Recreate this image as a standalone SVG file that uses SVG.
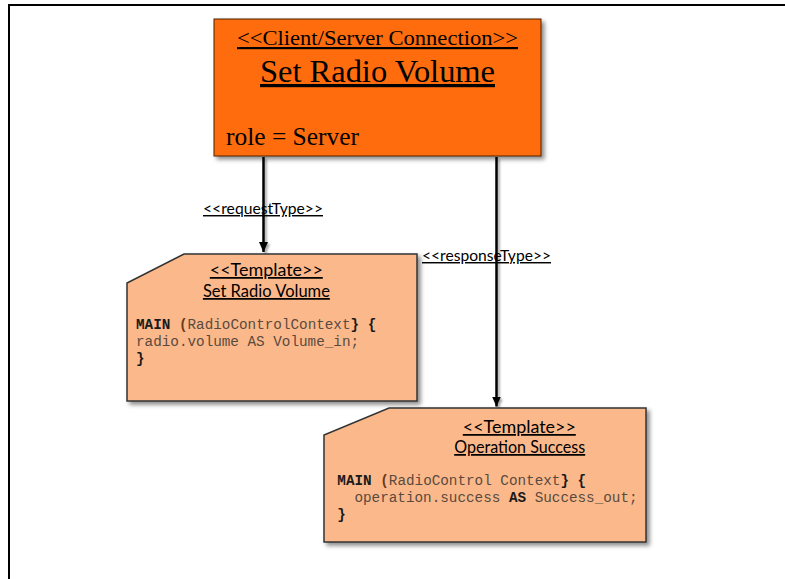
<svg xmlns="http://www.w3.org/2000/svg" width="785" height="579" viewBox="0 0 785 579">
  <defs>
    <filter id="shadow" x="-10%" y="-10%" width="130%" height="130%">
      <feDropShadow dx="3" dy="3" stdDeviation="2" flood-color="#000" flood-opacity="0.45"/>
    </filter>
    <filter id="lineShadow" x="-200%" y="-5%" width="500%" height="115%">
      <feDropShadow dx="2" dy="2" stdDeviation="1.2" flood-color="#000" flood-opacity="0.35"/>
    </filter>
    <marker id="arrow" markerUnits="userSpaceOnUse" markerWidth="10" markerHeight="10" refX="10" refY="4.5" orient="auto">
      <path d="M0,0 L10,4.5 L0,9 z" fill="#000"/>
    </marker>
    <style>
      .serif { font-family: "Liberation Serif", "Times New Roman", serif; fill: #000; }
      .sans { font-family: Lato, "Open Sans", "Liberation Sans", sans-serif; fill: #000; }
      .ul { text-decoration: underline; }
      .code { font-family: "Liberation Mono", "Courier New", monospace; font-size: 14.3px; fill: #5a4a3e; white-space: pre; }
      .kw { font-weight: bold; fill: #1a1a1a; }
      .paren { font-weight: bold; fill: #6a3a1c; }
      .template { fill: #FBB98B; stroke: #333; stroke-width: 1.5; }
      .conn { stroke: #000; stroke-width: 2.5; fill: none; }
    </style>
  </defs>

  <rect x="0" y="0" width="785" height="579" fill="#fff"/>
  <!-- outer frame -->
  <rect x="9" y="5" width="800" height="600" fill="none" stroke="#000" stroke-width="2"/>

  <!-- connectors -->
  <g id="connectors" filter="url(#lineShadow)">
    <line class="conn" x1="263.5" y1="157" x2="263.5" y2="252" marker-end="url(#arrow)"/>
    <line class="conn" x1="496.5" y1="157" x2="496.5" y2="406.5" marker-end="url(#arrow)"/>
  </g>
  <g id="connector-labels">
    <text class="sans ul" x="203" y="214" font-size="14.5" textLength="120" lengthAdjust="spacingAndGlyphs">&lt;&lt;requestType&gt;&gt;</text>
    <text class="sans ul" x="422" y="261" font-size="14.5" textLength="129" lengthAdjust="spacingAndGlyphs">&lt;&lt;responseType&gt;&gt;</text>
  </g>

  <!-- client/server connection node -->
  <g id="connection">
    <rect x="214" y="19" width="327" height="137" fill="#FF6C0A" stroke="#4a2000" stroke-width="1" filter="url(#shadow)"/>
    <text class="serif ul" x="377.5" y="45" font-size="22" text-anchor="middle" textLength="281" lengthAdjust="spacingAndGlyphs">&lt;&lt;Client/Server Connection&gt;&gt;</text>
    <text class="serif ul" x="377.5" y="82" font-size="32" text-anchor="middle" textLength="235" lengthAdjust="spacingAndGlyphs">Set Radio Volume</text>
    <text class="serif" x="226" y="145" font-size="25" textLength="133" lengthAdjust="spacingAndGlyphs">role = Server</text>
  </g>

  <!-- request template node -->
  <g id="template-request">
    <path class="template" d="M184,254 H417 V401 H127 V283 Z" filter="url(#shadow)"/>
    <text class="sans ul" x="266.3" y="276" font-size="17.5" text-anchor="middle" textLength="113" lengthAdjust="spacingAndGlyphs">&lt;&lt;Template&gt;&gt;</text>
    <text class="sans ul" x="266.4" y="297" font-size="17.5" text-anchor="middle" textLength="127" lengthAdjust="spacingAndGlyphs">Set Radio Volume</text>
    <text class="code" x="136" y="328.5"><tspan class="kw">MAIN</tspan> <tspan class="paren">(</tspan>RadioControlContext<tspan class="kw">} {</tspan></text>
    <text class="code" x="136" y="346">radio.volume AS Volume_in;</text>
    <text class="code" x="136" y="363"><tspan class="kw">}</tspan></text>
  </g>

  <!-- response template node -->
  <g id="template-response">
    <path class="template" d="M389,408 H646 V542 H324 V435 Z" filter="url(#shadow)"/>
    <text class="sans ul" x="519.3" y="433" font-size="17.5" text-anchor="middle" textLength="113" lengthAdjust="spacingAndGlyphs">&lt;&lt;Template&gt;&gt;</text>
    <text class="sans ul" x="519.7" y="453" font-size="17.5" text-anchor="middle" textLength="131" lengthAdjust="spacingAndGlyphs">Operation Success</text>
    <text class="code" x="337.3" y="485"><tspan class="kw">MAIN</tspan> <tspan class="paren">(</tspan>RadioControl Context<tspan class="kw">} {</tspan></text>
    <text class="code" x="337.3" y="502">  operation.success <tspan class="kw">AS</tspan> Success_out;</text>
    <text class="code" x="337.3" y="519"><tspan class="kw">}</tspan></text>
  </g>
</svg>
